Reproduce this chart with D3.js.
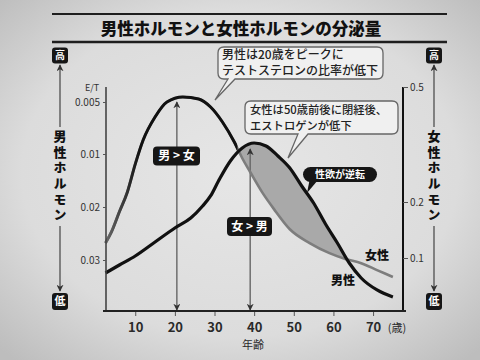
<!DOCTYPE html>
<html><head><meta charset="utf-8">
<script src="https://cdn.jsdelivr.net/npm/d3@7"></script>
<style>
html,body{margin:0;padding:0;background:#d8d8d8;}
svg{display:block;}
text{font-family:"Noto Sans CJK JP","Noto Sans",sans-serif;}
</style></head>
<body>
<svg id="c" width="480" height="360"></svg>
<script>
// ---- data ----
const title = "男性ホルモンと女性ホルモンの分泌量";
const xTicks = [10, 20, 30, 40, 50, 60, 70];
const leftTicks = [0.005, 0.01, 0.02, 0.03];
const leftTickLabels = ["0.005", "0.01", "0.02", "0.03"];
const rightTicks = [0.1, 0.2, 0.5];
const rightTickLabels = ["0.1", "0.2", "0.5"];
// male hormone (E/T ratio, left axis)
const maleAges = [2.5, 4, 6, 8, 10, 12, 15, 18, 22, 26, 29, 32, 35, 37, 39, 42, 45, 49, 54, 59, 63, 67, 71, 75];
const maleET = [0.0268, 0.0247, 0.0209, 0.0172, 0.0119, 0.00865, 0.00644, 0.0050, 0.00452, 0.00471, 0.00548, 0.00692, 0.00885, 0.0108, 0.0134, 0.0172, 0.0204, 0.0242, 0.0268, 0.0287, 0.0298, 0.0306, 0.0319, 0.0332];
// female hormone (right axis)
const femaleAges = [2.5, 6, 10, 15, 20, 24, 27, 29, 31, 34, 37, 40, 43, 46, 49, 52, 55, 58, 61, 64, 67, 71, 75];
const femaleE = [0.0732, 0.0875, 0.1036, 0.1286, 0.1536, 0.1714, 0.1929, 0.2157, 0.2548, 0.3070, 0.3409, 0.3539, 0.3461, 0.3200, 0.2887, 0.2417, 0.1982, 0.1607, 0.1268, 0.0911, 0.0643, 0.0429, 0.0304];
const maleArrowAge = 20.5, femaleArrowAge = 39, crossAge = 35.8;

const male = maleAges.map((a, i) => ({age: a, v: maleET[i]}));
const female = femaleAges.map((a, i) => ({age: a, v: femaleE[i]}));

const svg = d3.select("#c");
const defs = svg.append("defs");

// photo-like background
const bg = defs.append("radialGradient").attr("id", "bg").attr("cx", "50%").attr("cy", "48%").attr("r", "70%");
bg.append("stop").attr("offset", "0%").attr("stop-color", "#e6e6e6");
bg.append("stop").attr("offset", "65%").attr("stop-color", "#dcdcdc");
bg.append("stop").attr("offset", "100%").attr("stop-color", "#bdbdbd");
svg.append("rect").attr("width", 480).attr("height", 360).attr("fill", "url(#bg)");

const pLeft = 106, pRight = 403, pTop = 87, pBottom = 311;
const x = d3.scaleLinear().domain([0, 80]).range([95.6, 412.7]);
const yL = d3.scaleLinear().domain(leftTicks).range([102, 154, 207, 260]);
const yR = d3.scaleLinear().domain([0.1, 0.2, 0.5]).range([258, 202, 87]);

// title band
svg.append("line").attr("x1", 52).attr("x2", 447).attr("y1", 14).attr("y2", 14).attr("stroke", "#1e1e1e").attr("stroke-width", 2);
svg.append("line").attr("x1", 52).attr("x2", 447).attr("y1", 42).attr("y2", 42).attr("stroke", "#1e1e1e").attr("stroke-width", 2.5);
svg.append("text").attr("x", 241).attr("y", 35).attr("text-anchor", "middle")
  .attr("font-size", 16.5).attr("font-weight", 900).attr("fill", "#111").text(title);

// shading where female > male
const lineM = d3.line().x(d => x(d.age)).y(d => yL(d.v)).curve(d3.curveMonotoneX);
const lineF = d3.line().x(d => x(d.age)).y(d => yR(d.v)).curve(d3.curveMonotoneX);
defs.append("clipPath").attr("id", "aboveMale").append("path")
  .attr("d", d3.area().x(d => x(d.age)).y0(0).y1(d => yL(d.v)).curve(d3.curveMonotoneX)(male));
svg.append("path").attr("clip-path", "url(#aboveMale)")
  .attr("d", d3.area().x(d => x(d.age)).y0(pBottom).y1(d => yR(d.v)).curve(d3.curveMonotoneX)(female))
  .attr("fill", "#a9a9a9");

// arrows
const mk = defs.append("marker").attr("id", "ah").attr("viewBox", "0 0 10 10").attr("refX", 9).attr("refY", 5)
  .attr("markerUnits", "userSpaceOnUse").attr("markerWidth", 7).attr("markerHeight", 7).attr("orient", "auto-start-reverse");
mk.append("path").attr("d", "M0,0 L10,5 L0,10 L3,5 z").attr("fill", "#333");
const arrows = [
  {ax: x(maleArrowAge), y1: pBottom - 1, y2: yL(d3.min(maleET)) + 5},
  {ax: x(femaleArrowAge), y1: pBottom - 1, y2: yR(d3.max(femaleE)) + 6}
];
svg.selectAll(".arr").data(arrows).join("line").attr("class", "arr")
  .attr("x1", d => d.ax).attr("x2", d => d.ax).attr("y1", d => d.y1).attr("y2", d => d.y2)
  .attr("stroke", "#666").attr("stroke-width", 1.4)
  .attr("marker-start", "url(#ah)").attr("marker-end", "url(#ah)");

// male curve: grey after crossing, dark before
svg.append("path").attr("d", lineM(male)).attr("fill", "none").attr("stroke", "#7d7d7d").attr("stroke-width", 2.6);
defs.append("clipPath").attr("id", "beforeCross").append("rect")
  .attr("x", 0).attr("y", 0).attr("width", x(crossAge)).attr("height", 360);
const lg = defs.append("linearGradient").attr("id", "mg").attr("gradientUnits", "userSpaceOnUse")
  .attr("x1", 105).attr("x2", 140).attr("y1", 0).attr("y2", 0);
lg.append("stop").attr("offset", "0").attr("stop-color", "#6a6a6a");
lg.append("stop").attr("offset", "1").attr("stop-color", "#111");
svg.append("path").attr("d", lineM(male)).attr("clip-path", "url(#beforeCross)")
  .attr("fill", "none").attr("stroke", "url(#mg)").attr("stroke-width", 3);
// female curve
svg.append("path").attr("d", lineF(female)).attr("fill", "none").attr("stroke", "#111").attr("stroke-width", 3.2);

// axes
svg.append("line").attr("x1", pLeft).attr("x2", pLeft).attr("y1", pTop).attr("y2", pBottom).attr("stroke", "#444").attr("stroke-width", 1.6);
svg.append("line").attr("x1", pRight).attr("x2", pRight).attr("y1", pTop).attr("y2", pBottom).attr("stroke", "#111").attr("stroke-width", 2);
svg.append("line").attr("x1", 103).attr("x2", 406).attr("y1", pBottom).attr("y2", pBottom).attr("stroke", "#222").attr("stroke-width", 2);

const gL = svg.append("g").attr("transform", `translate(${pLeft},0)`)
  .call(d3.axisLeft(yL).tickValues(leftTicks).tickFormat((d, i) => leftTickLabels[i]).tickSize(3).tickPadding(3));
const gR = svg.append("g").attr("transform", `translate(${pRight},0)`)
  .call(d3.axisRight(yR).tickValues(rightTicks).tickFormat((d, i) => rightTickLabels[i]).tickSize(5).tickPadding(2));
const gB = svg.append("g").attr("transform", `translate(0,${pBottom + 1})`)
  .call(d3.axisBottom(x).tickValues(xTicks).tickSize(4).tickPadding(7));
[gL, gR, gB].forEach(g => { g.select(".domain").remove(); g.selectAll("line").attr("stroke", "#555"); });
gL.selectAll("text").attr("font-size", 10).attr("fill", "#333").attr("font-family", "'Noto Sans',sans-serif");
gR.selectAll("text").attr("font-size", 10).attr("fill", "#333").attr("font-family", "'Noto Sans',sans-serif");
gB.selectAll("text").attr("font-size", 13).attr("fill", "#2a2a2a").attr("font-weight", 600).attr("font-family", "'Noto Sans',sans-serif");

svg.append("text").attr("x", 92).attr("y", 91).attr("text-anchor", "middle").attr("font-size", 9).attr("fill", "#333")
  .attr("font-family", "'Noto Sans',sans-serif").text("E/T");
svg.append("text").attr("x", 397).attr("y", 332).attr("text-anchor", "middle").attr("font-size", 11).attr("fill", "#2a2a2a").text("(歳)");
svg.append("text").attr("x", 253).attr("y", 349).attr("text-anchor", "middle").attr("font-size", 11).attr("fill", "#2a2a2a").text("年齢");

// dark label boxes
function darkBox(cx, cy, w, h, r, label, fs) {
  svg.append("rect").attr("x", cx - w / 2).attr("y", cy - h / 2).attr("width", w).attr("height", h).attr("rx", r)
    .attr("fill", "#161616");
  svg.append("text").attr("x", cx).attr("y", cy).attr("dy", "0.36em").attr("text-anchor", "middle")
    .attr("font-size", fs).attr("font-weight", 700).attr("fill", "#fff").text(label);
}
darkBox(176.5, 156, 47, 19, 4, "男 > 女", 12);
darkBox(249.5, 226.5, 45, 19, 4, "女 > 男", 12);
// pill with tail
svg.append("path").attr("d", "M310,178 L307,193 L318,180 Z").attr("fill", "#161616");
darkBox(340, 174.5, 74, 15, 7.5, "性欲が逆転", 10);

// callouts
function callout(x0, y0, x1, y1, r, bl, br, tx, ty) {
  const p = `M${x0 + r},${y0} H${x1 - r} Q${x1},${y0} ${x1},${y0 + r} V${y1 - r} Q${x1},${y1} ${x1 - r},${y1} H${br} L${tx},${ty} L${bl},${y1} H${x0 + r} Q${x0},${y1} ${x0},${y1 - r} V${y0 + r} Q${x0},${y0} ${x0 + r},${y0} Z`;
  svg.append("path").attr("d", p).attr("fill", "#f0f0f0").attr("stroke", "#666").attr("stroke-width", 1.3);
}
callout(218, 47, 383, 79, 6, 228, 235, 215, 100);
callout(245, 101, 398, 134, 6, 298, 308, 288, 158);
const ct = [
  {x: 222, y: 59, t: "男性は20歳をピークに", fs: 12},
  {x: 222, y: 75, t: "テストステロンの比率が低下", fs: 12},
  {x: 250, y: 114, t: "女性は50歳前後に閉経後、", fs: 11.3},
  {x: 250, y: 129.5, t: "エストロゲンが低下", fs: 11.3}
];
svg.selectAll(".ct").data(ct).join("text").attr("class", "ct").attr("x", d => d.x).attr("y", d => d.y)
  .attr("font-size", d => d.fs).attr("font-weight", 500).attr("fill", "#222").text(d => d.t);

// end labels
svg.append("text").attr("x", 377).attr("y", 260).attr("text-anchor", "middle").attr("font-size", 12).attr("font-weight", 900).attr("fill", "#111").text("女性");
svg.append("text").attr("x", 343).attr("y", 285).attr("text-anchor", "middle").attr("font-size", 12).attr("font-weight", 900).attr("fill", "#111").text("男性");

// side scales
function side(cx, label) {
  darkBox(cx, 55.5, 16, 16, 3, "高", 10);
  darkBox(cx, 301.5, 16, 17, 3, "低", 11);
  svg.append("line").attr("x1", cx).attr("x2", cx).attr("y1", 127).attr("y2", 65)
    .attr("stroke", "#444").attr("stroke-width", 1.2).attr("marker-end", "url(#ah)");
  svg.append("line").attr("x1", cx).attr("x2", cx).attr("y1", 226).attr("y2", 291)
    .attr("stroke", "#444").attr("stroke-width", 1.2).attr("marker-end", "url(#ah)");
  svg.append("text").attr("x", cx).attr("y", 176.5)
    .attr("text-anchor", "middle").attr("style", "writing-mode: vertical-rl; letter-spacing: 2.6px;")
    .attr("font-size", 13).attr("font-weight", 900).attr("fill", "#111").text(label);
}
side(60, "男性ホルモン");
side(434, "女性ホルモン");
</script>
</body></html>
